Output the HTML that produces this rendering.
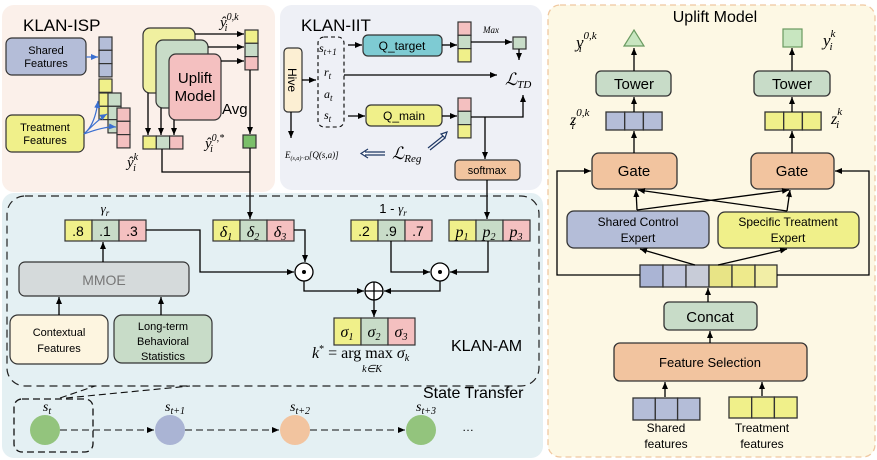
<!DOCTYPE html>
<html><head><meta charset="utf-8"><style>
html,body{margin:0;padding:0;background:#fff;}
svg{display:block;font-family:"Liberation Sans",sans-serif;}
.m{font-family:"Liberation Serif",serif;font-style:italic;}
</style></head><body>
<svg width="877" height="460" viewBox="0 0 877 460" xmlns="http://www.w3.org/2000/svg">
<defs>
<marker id="a" markerWidth="8" markerHeight="8" refX="7" refY="4" orient="auto" markerUnits="userSpaceOnUse"><path d="M0,1 L7,4 L0,7 z" fill="#000"/></marker>
<marker id="b" markerWidth="8" markerHeight="8" refX="7" refY="4" orient="auto" markerUnits="userSpaceOnUse"><path d="M0,1 L7,4 L0,7 z" fill="#3b6fd0"/></marker>
</defs>
<g stroke="#000" stroke-width="1.3" fill="none">
<!-- panels -->
<rect x="2" y="5" width="273" height="187" rx="12" fill="#fbf0ea" stroke="none"/>
<rect x="280" y="5" width="262" height="185" rx="12" fill="#eef0f6" stroke="none"/>
<rect x="2" y="193" width="541" height="265" rx="12" fill="#e4f0f3" stroke="none"/>
<rect x="548" y="5" width="327" height="452" rx="12" fill="#fdf8e4" stroke="#f0c8a0" stroke-dasharray="6,4"/>
</g>

<!-- KLAN-ISP -->
<text x="23" y="31" font-size="17">KLAN-ISP</text>
<g stroke="#333" stroke-width="1.2">
<rect x="6" y="38" width="80" height="37" rx="6" fill="#b4bdd8"/>
<rect x="6" y="115" width="78" height="37" rx="6" fill="#f0f08a"/>
<rect x="99" y="37" width="13" height="13.3" fill="#b4bdd8"/><rect x="99" y="50.3" width="13" height="13.3" fill="#b4bdd8"/><rect x="99" y="63.6" width="13" height="13.3" fill="#b4bdd8"/>
<rect x="99" y="79" width="13" height="13.3" fill="#f0f08a"/><rect x="99" y="93" width="13" height="13.3" fill="#f0f08a"/><rect x="99" y="106.3" width="13" height="13.3" fill="#f0f08a"/>
<rect x="108" y="93" width="13" height="13.3" fill="#c8dcc8"/><rect x="108" y="106.3" width="13" height="13.3" fill="#c8dcc8"/><rect x="108" y="119.6" width="13" height="13.3" fill="#c8dcc8"/>
<rect x="117" y="108" width="13" height="13.3" fill="#f4c0c0"/><rect x="117" y="121.3" width="13" height="13.3" fill="#f4c0c0"/><rect x="117" y="134.6" width="13" height="13.3" fill="#f4c0c0"/>
<rect x="143" y="28" width="52" height="65" rx="7" fill="#f0f0a0"/>
<rect x="156" y="40" width="52" height="68" rx="7" fill="#c8dcc8"/>
<rect x="169" y="54" width="52" height="66" rx="7" fill="#f4c0c0"/>
<rect x="245" y="30" width="13" height="13.3" fill="#f0f08a"/><rect x="245" y="43.3" width="13" height="13.3" fill="#c8dcc8"/><rect x="245" y="56.6" width="13" height="13.3" fill="#f4c0c0"/>
<rect x="243" y="135" width="13" height="13" fill="#7bbf6a"/>
<rect x="143" y="136" width="13.3" height="13" fill="#f0f08a"/><rect x="156.3" y="136" width="13.3" height="13" fill="#c8dcc8"/><rect x="169.6" y="136" width="13.3" height="13" fill="#f4c0c0"/>
</g>
<text x="46" y="54" font-size="11" text-anchor="middle">Shared</text><text x="46" y="67" font-size="11" text-anchor="middle">Features</text>
<text x="45" y="131" font-size="11" text-anchor="middle">Treatment</text><text x="45" y="144" font-size="11" text-anchor="middle">Features</text>
<text x="195" y="83" font-size="15" text-anchor="middle">Uplift</text><text x="195" y="101" font-size="15" text-anchor="middle">Model</text>
<text x="222" y="114" font-size="15">Avg</text>
<text x="220" y="27" class="m" font-size="15">ŷ<tspan font-size="10" dy="-7">0,k</tspan><tspan font-size="10" dx="-14" dy="11">i</tspan></text>
<text x="205" y="148" class="m" font-size="15">ŷ<tspan font-size="10" dy="-7">0,*</tspan><tspan font-size="10" dx="-14" dy="11">i</tspan></text>
<text x="127" y="167" class="m" font-size="15">ŷ<tspan font-size="10" dy="-7">k</tspan><tspan font-size="10" dx="-5" dy="11">i</tspan></text>
<g stroke="#3b6fd0" stroke-width="1.2" fill="none">
<path d="M86,57 L98,57" marker-end="url(#b)"/>
<path d="M84,134 Q95,125 98,101" marker-end="url(#b)"/>
<path d="M84,134 Q100,118 107,114" marker-end="url(#b)"/>
<path d="M84,134 Q105,126 116,127" marker-end="url(#b)"/>
</g>
<g stroke="#000" stroke-width="1.3" fill="none">
<path d="M195,34 L244,34" marker-end="url(#a)"/>
<path d="M208,47 L244,47" marker-end="url(#a)"/>
<path d="M221,61 L244,61" marker-end="url(#a)"/>
<path d="M148,93 L148,135" marker-end="url(#a)"/>
<path d="M161,108 L161,135" marker-end="url(#a)"/>
<path d="M174,120 L174,135" marker-end="url(#a)"/>
<path d="M250,70 L250,134" marker-end="url(#a)"/>
<path d="M162,149 L162,172 L250,172"/>
<path d="M250,148 L250,219" marker-end="url(#a)"/>
</g>

<!-- KLAN-IIT -->
<text x="301" y="31" font-size="17">KLAN-IIT</text>
<rect x="284" y="48" width="18" height="64" rx="4" fill="#fcefd3" stroke="#333" stroke-width="1.2"/>
<text transform="translate(288,80) rotate(90)" font-size="12" text-anchor="middle">Hive</text>
<rect x="318" y="37" width="26" height="90" rx="6" fill="none" stroke="#000" stroke-width="1.1" stroke-dasharray="4,3"/>
<text x="319" y="52" class="m" font-size="12">s<tspan font-size="9" dy="3">t+1</tspan></text>
<text x="324" y="76" class="m" font-size="12">r<tspan font-size="9" dy="3">t</tspan></text>
<text x="324" y="98" class="m" font-size="12">a<tspan font-size="9" dy="3">t</tspan></text>
<text x="324" y="119" class="m" font-size="12">s<tspan font-size="9" dy="3">t</tspan></text>
<g stroke="#333" stroke-width="1.2">
<rect x="363" y="35" width="79" height="21" rx="5" fill="#7ecbd3"/>
<rect x="366" y="105" width="76" height="21" rx="5" fill="#f0f08a"/>
<rect x="458" y="22" width="13" height="13.3" fill="#f4c0c0"/><rect x="458" y="35.3" width="13" height="13.3" fill="#c8dcc8"/><rect x="458" y="48.6" width="13" height="13.3" fill="#f0f08a"/>
<rect x="458" y="98" width="13" height="13.3" fill="#f4c0c0"/><rect x="458" y="111.3" width="13" height="13.3" fill="#c8dcc8"/><rect x="458" y="124.6" width="13" height="13.3" fill="#f0f08a"/>
<rect x="513" y="37" width="13" height="12" fill="#c8dcc8"/>
<rect x="455" y="160" width="65" height="20" rx="4" fill="#f2c49f"/>
</g>
<text x="402" y="50" font-size="12" text-anchor="middle">Q_target</text>
<text x="404" y="120" font-size="12" text-anchor="middle">Q_main</text>
<text x="487" y="174" font-size="11" text-anchor="middle">softmax</text>
<text x="483" y="33" class="m" font-size="9">Max</text>
<text x="505" y="85" font-size="17" class="m">ℒ<tspan font-size="11" dy="3">TD</tspan></text>
<text x="392" y="159" font-size="17" class="m">ℒ<tspan font-size="11" dy="3">Reg</tspan></text>
<text x="285" y="158" class="m" font-size="9">E<tspan font-size="6" dy="2">(s,a)~D</tspan><tspan dy="-2">[Q(s,a)]</tspan></text>
<g stroke="#000" stroke-width="1.3" fill="none">
<path d="M302,80 L316,80" marker-end="url(#a)"/>
<path d="M291,112 L291,138" marker-end="url(#a)"/>
<path d="M348,45 L362,45" marker-end="url(#a)"/>
<path d="M348,116 L365,116" marker-end="url(#a)"/>
<path d="M344,75 L497,75" marker-end="url(#a)"/>
<path d="M442,45 L457,45" marker-end="url(#a)"/>
<path d="M442,116 L457,116" marker-end="url(#a)"/>
<path d="M471,42 L512,42" marker-end="url(#a)"/>
<path d="M519,49 L519,60" marker-end="url(#a)"/>
<path d="M471,117 L523,117 L523,95" marker-end="url(#a)"/>
<path d="M485,117 L485,159" marker-end="url(#a)"/>
<path d="M487,180 L487,219" marker-end="url(#a)"/>
</g>
<g stroke="#1f3864" stroke-width="1.2" fill="#fff">
<path d="M428,148 L443,136 L441,134 L447,132 L445,138 L443,136 M430,150 L445,138"/>
<path d="M385,152 L365,152 M385,155 L365,155 M368,149 L361,153.5 L368,158"/>
</g>

<!-- KLAN-AM -->
<rect x="7" y="196" width="532" height="190" rx="18" fill="none" stroke="#222" stroke-width="1.2" stroke-dasharray="8,5"/>
<text x="105" y="213" class="m" font-size="13" text-anchor="middle">γ<tspan font-size="9" dy="3">r</tspan></text>
<text x="393" y="213" font-size="13" text-anchor="middle">1 - <tspan class="m">γ</tspan><tspan class="m" font-size="9" dy="3">r</tspan></text>
<g stroke="#333" stroke-width="1.2">
<rect x="65" y="220" width="27" height="21" fill="#f0f08a"/><rect x="92" y="220" width="27" height="21" fill="#c8dcc8"/><rect x="119" y="220" width="27" height="21" fill="#f4c0c0"/>
<rect x="213" y="220" width="27" height="21" fill="#f0f08a"/><rect x="240" y="220" width="27" height="21" fill="#c8dcc8"/><rect x="267" y="220" width="27" height="21" fill="#f4c0c0"/>
<rect x="351" y="220" width="27" height="21" fill="#f0f08a"/><rect x="378" y="220" width="27" height="21" fill="#c8dcc8"/><rect x="405" y="220" width="27" height="21" fill="#f4c0c0"/>
<rect x="449" y="220" width="27" height="21" fill="#f0f08a"/><rect x="476" y="220" width="27" height="21" fill="#c8dcc8"/><rect x="503" y="220" width="27" height="21" fill="#f4c0c0"/>
<rect x="334" y="318" width="27" height="27" fill="#f0f08a"/><rect x="361" y="318" width="27" height="27" fill="#c8dcc8"/><rect x="388" y="318" width="27" height="27" fill="#f4c0c0"/>
<rect x="19" y="262" width="170" height="34" rx="6" fill="#d5dadb"/>
<rect x="10" y="315" width="98" height="49" rx="8" fill="#fdf5e0"/>
<rect x="114" y="315" width="98" height="48" rx="8" fill="#c8dcc8"/>
</g>
<g font-size="14" text-anchor="middle">
<text x="78" y="236">.8</text><text x="105" y="236">.1</text><text x="132" y="236">.3</text>
<text x="364" y="236">.2</text><text x="391" y="236">.9</text><text x="418" y="236">.7</text>
</g>
<g class="m" font-size="16" text-anchor="middle">
<text x="226" y="237">δ<tspan font-size="10" dy="3">1</tspan></text><text x="253" y="237">δ<tspan font-size="10" dy="3">2</tspan></text><text x="280" y="237">δ<tspan font-size="10" dy="3">3</tspan></text>
<text x="462" y="237">p<tspan font-size="10" dy="3">1</tspan></text><text x="489" y="237">p<tspan font-size="10" dy="3">2</tspan></text><text x="516" y="237">p<tspan font-size="10" dy="3">3</tspan></text>
<text x="347" y="337">σ<tspan font-size="10" dy="3">1</tspan></text><text x="374" y="337">σ<tspan font-size="10" dy="3">2</tspan></text><text x="401" y="337">σ<tspan font-size="10" dy="3">3</tspan></text>
</g>
<text x="104" y="285" font-size="14" fill="#777" text-anchor="middle">MMOE</text>
<text x="59" y="336" font-size="11" text-anchor="middle">Contextual</text><text x="59" y="352" font-size="11" text-anchor="middle">Features</text>
<text x="163" y="330" font-size="11" text-anchor="middle">Long-term</text><text x="163" y="345" font-size="11" text-anchor="middle">Behavioral</text><text x="163" y="360" font-size="11" text-anchor="middle">Statistics</text>
<text x="312" y="358" font-size="16" font-family="Liberation Serif,serif"><tspan font-style="italic">k</tspan><tspan font-size="10" dy="-6">*</tspan><tspan dy="6"> = arg max </tspan><tspan font-style="italic">σ</tspan><tspan font-style="italic" font-size="10" dy="3">k</tspan></text>
<text x="372" y="372" class="m" font-size="10" text-anchor="middle">k∈K</text>
<text x="451" y="351" font-size="16">KLAN-AM</text>
<g stroke="#000" stroke-width="1.3" fill="none">
<path d="M103,262 L103,242" marker-end="url(#a)"/>
<path d="M59,315 L59,297" marker-end="url(#a)"/>
<path d="M161,315 L161,297" marker-end="url(#a)"/>
<path d="M146,230 L200,230 L200,272 L294,272" marker-end="url(#a)"/>
<path d="M294,230 L305,230 L305,262" marker-end="url(#a)"/>
<path d="M391,241 L391,272 L430,272" marker-end="url(#a)"/>
<path d="M488,241 L488,272 L450,272" marker-end="url(#a)"/>
<path d="M304,281 L304,291 L364,291" marker-end="url(#a)"/>
<path d="M440,281 L440,291 L384,291" marker-end="url(#a)"/>
<path d="M374,300 L374,317" marker-end="url(#a)"/>
<circle cx="304" cy="272" r="9" fill="#fff"/><circle cx="440" cy="272" r="9" fill="#fff"/>
<circle cx="374" cy="291" r="9" fill="#fff"/>
<path d="M365,291 L383,291 M374,282 L374,300"/>
</g>
<circle cx="304" cy="272" r="2" fill="#000"/><circle cx="440" cy="272" r="2" fill="#000"/>

<!-- state transfer -->
<text x="423" y="398" font-size="16">State Transfer</text>
<rect x="14" y="399" width="79" height="53" rx="8" fill="none" stroke="#111" stroke-width="1.3" stroke-dasharray="7,4"/>
<g stroke="#111" stroke-width="1.1" stroke-dasharray="7,4" fill="none">
<path d="M60,398 L95,386"/><path d="M66,398 L190,386"/>
<path d="M60,430 L154,430" marker-end="url(#a)"/>
<path d="M185,430 L279,430" marker-end="url(#a)"/>
<path d="M310,430 L405,430" marker-end="url(#a)"/>
</g>
<circle cx="45" cy="430" r="15" fill="#93c47d"/>
<circle cx="170" cy="430" r="15" fill="#aab4d4"/>
<circle cx="295" cy="430" r="15" fill="#f2c49f"/>
<circle cx="421" cy="430" r="15" fill="#93c47d"/>
<g class="m" font-size="14" text-anchor="middle">
<text x="47" y="411">s<tspan font-size="10" dy="3">t</tspan></text>
<text x="175" y="411">s<tspan font-size="10" dy="3">t+1</tspan></text>
<text x="300" y="411">s<tspan font-size="10" dy="3">t+2</tspan></text>
<text x="426" y="411">s<tspan font-size="10" dy="3">t+3</tspan></text>
</g>
<text x="462" y="431" font-size="12">…</text>

<!-- Uplift Model -->
<text x="715" y="22" font-size="16" text-anchor="middle">Uplift Model</text>
<path d="M634,30 L644,46 L624,46 Z" fill="#c8e6c0" stroke="#6a9a60" stroke-width="1.2"/>
<rect x="783" y="29" width="19" height="18" fill="#c8e6c0" stroke="#6a9a60" stroke-width="1.2"/>
<text x="576" y="48" class="m" font-size="17">y<tspan font-size="11" dy="-9">0,k</tspan><tspan font-size="11" dx="-18" dy="13">i</tspan></text>
<text x="823" y="46" class="m" font-size="17">y<tspan font-size="11" dy="-9">k</tspan><tspan font-size="11" dx="-6" dy="13">i</tspan></text>
<text x="570" y="125" class="m" font-size="16">z<tspan font-size="11" dy="-9">0,k</tspan><tspan font-size="11" dx="-18" dy="13">i</tspan></text>
<text x="831" y="124" class="m" font-size="16">z<tspan font-size="11" dy="-9">k</tspan><tspan font-size="11" dx="-6" dy="13">i</tspan></text>
<g stroke="#333" stroke-width="1.3">
<rect x="596" y="71" width="75" height="25" rx="5" fill="#c8dcc8"/>
<rect x="754" y="71" width="76" height="25" rx="5" fill="#c8dcc8"/>
<rect x="606" y="112" width="18.7" height="18" fill="#b4bdd8"/><rect x="624.7" y="112" width="18.7" height="18" fill="#b4bdd8"/><rect x="643.4" y="112" width="18.7" height="18" fill="#b4bdd8"/>
<rect x="765" y="112" width="18.7" height="18" fill="#f0f08a"/><rect x="783.7" y="112" width="18.7" height="18" fill="#f0f08a"/><rect x="802.4" y="112" width="18.7" height="18" fill="#f0f08a"/>
<rect x="592" y="153" width="85" height="36" rx="7" fill="#f2c49f"/>
<rect x="751" y="153" width="83" height="36" rx="7" fill="#f2c49f"/>
<rect x="567" y="211" width="142" height="37" rx="7" fill="#b4bdd8"/>
<rect x="718" y="212" width="141" height="36" rx="7" fill="#f0f08a"/>
<rect x="640" y="265" width="23" height="22" fill="#aab4d4"/><rect x="663" y="265" width="23" height="22" fill="#c0c6dc"/><rect x="686" y="265" width="23" height="22" fill="#c8ccd8"/>
<rect x="709" y="265" width="23" height="22" fill="#e8e486"/><rect x="732" y="265" width="23" height="22" fill="#eeea8c"/><rect x="755" y="265" width="22" height="22" fill="#f2eea6"/>
<rect x="664" y="302" width="93" height="28" rx="5" fill="#c8dcc8"/>
<rect x="614" y="343" width="193" height="38" rx="6" fill="#f2c49f"/>
<rect x="633" y="398" width="22.3" height="22" fill="#b4bdd8"/><rect x="655.3" y="398" width="22.3" height="22" fill="#b4bdd8"/><rect x="677.6" y="398" width="22.3" height="22" fill="#b4bdd8"/>
<rect x="729" y="397" width="22.7" height="21" fill="#f0f08a"/><rect x="751.7" y="397" width="22.7" height="21" fill="#f0f08a"/><rect x="774.4" y="397" width="22.7" height="21" fill="#f0f08a"/>
</g>
<g font-size="15" text-anchor="middle">
<text x="634" y="89">Tower</text><text x="792" y="89">Tower</text>
<text x="634" y="176">Gate</text><text x="792" y="176">Gate</text>
<text x="710" y="322">Concat</text>
</g>
<g font-size="12" text-anchor="middle">
<text x="638" y="226">Shared Control</text><text x="638" y="242">Expert</text>
<text x="788" y="226">Specific Treatment</text><text x="788" y="242">Expert</text>
<text x="710" y="367" font-size="13">Feature Selection</text>
<text x="666" y="432">Shared</text><text x="666" y="448">features</text>
<text x="762" y="432">Treatment</text><text x="762" y="448">features</text>
</g>
<g stroke="#000" stroke-width="1.3" fill="none">
<path d="M634,71 L634,48" marker-end="url(#a)"/>
<path d="M792,71 L792,48" marker-end="url(#a)"/>
<path d="M634,112 L634,97" marker-end="url(#a)"/>
<path d="M792,112 L792,97" marker-end="url(#a)"/>
<path d="M634,153 L634,131" marker-end="url(#a)"/>
<path d="M792,153 L792,131" marker-end="url(#a)"/>
<path d="M637,210 L636,190" marker-end="url(#a)"/>
<path d="M637,210 L789,190" marker-end="url(#a)"/>
<path d="M787,211 L790,190" marker-end="url(#a)"/>
<path d="M787,211 L638,190" marker-end="url(#a)"/>
<path d="M695,265 L640,249" marker-end="url(#a)"/>
<path d="M718,265 L787,249" marker-end="url(#a)"/>
<path d="M640,275 L557,275 L557,171 L591,171" marker-end="url(#a)"/>
<path d="M777,275 L869,275 L869,171 L835,171" marker-end="url(#a)"/>
<path d="M708,302 L708,288" marker-end="url(#a)"/>
<path d="M710,343 L710,331" marker-end="url(#a)"/>
<path d="M665,397 L665,382" marker-end="url(#a)"/>
<path d="M762,396 L762,382" marker-end="url(#a)"/>
</g>
</svg>
</body></html>
